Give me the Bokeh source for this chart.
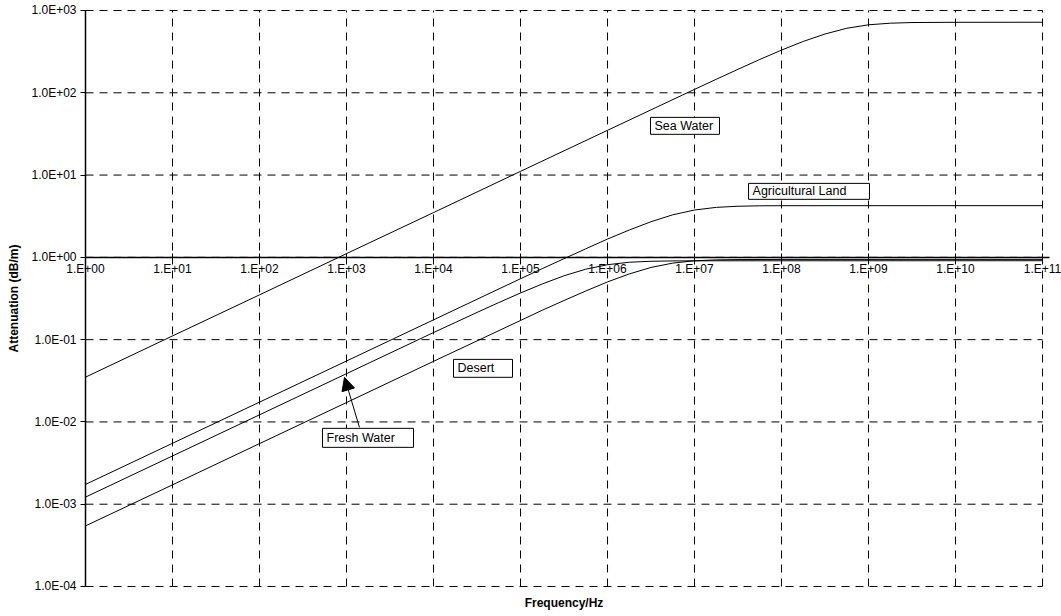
import numpy as np
from bokeh.plotting import figure
from bokeh.models import (FixedTicker, CustomJSTickFormatter, Grid, LogAxis,
                          Arrow, NormalHead, Range1d)
from bokeh.core.properties import value
from bokeh.embed import file_html
from bokeh.resources import INLINE

# ---------------- data ----------------
x_decades = [1e0, 1e1, 1e2, 1e3, 1e4, 1e5, 1e6, 1e7, 1e8, 1e9, 1e10, 1e11]
y_decades = [1e-4, 1e-3, 1e-2, 1e-1, 1e0, 1e1, 1e2, 1e3]

sea_f = [1, 1e1, 1e2, 1e3, 1e4, 1e5, 1e6, 1e7, 1.78e7, 3.16e7, 5.62e7, 1e8, 1.78e8,
         3.16e8, 5.62e8, 1e9, 1.78e9, 3.16e9, 1e10, 1e11]
sea_a = [0.035, 0.111, 0.35, 1.11, 3.5, 11.1, 35, 110, 146, 193, 254, 330, 421,
         518, 608, 670, 701, 714, 719, 720]

agri_f = [1, 1e1, 1e2, 1e3, 1e4, 1e5, 1.78e5, 3.16e5, 5.62e5, 1e6, 1.78e6, 3.16e6,
          5.62e6, 1e7, 1.78e7, 3.16e7, 5.62e7, 1e8, 1e11]
agri_a = [1.74e-3, 5.5e-3, 0.0174, 0.055, 0.174, 0.55, 0.73, 0.963, 1.27, 1.67, 2.15,
          2.71, 3.29, 3.76, 4.05, 4.18, 4.23, 4.245, 4.25]

fresh_f = [1, 1e1, 1e2, 1e3, 1e4, 1.78e4, 3.16e4, 5.62e4, 1e5, 1.78e5, 3.16e5, 5.62e5,
           1e6, 1.78e6, 3.16e6, 5.62e6, 1e7, 1e11]
fresh_a = [1.22e-3, 3.86e-3, 0.0122, 0.0386, 0.122, 0.1616, 0.214, 0.282, 0.369, 0.475,
           0.597, 0.718, 0.814, 0.872, 0.896, 0.905, 0.908, 0.91]

desert_f = [1, 1e1, 1e2, 1e3, 1e4, 1e5, 1.78e5, 3.16e5, 5.62e5, 1e6, 1.78e6, 3.16e6,
            5.62e6, 1e7, 1.78e7, 3.16e7, 1e8, 1e11]
desert_a = [5.45e-4, 1.72e-3, 5.45e-3, 0.0172, 0.0545, 0.171, 0.228, 0.299, 0.39, 0.503,
            0.629, 0.754, 0.851, 0.908, 0.932, 0.94, 0.944, 0.945]

# annotation boxes (log10 coordinates)
box_text = ["Sea Water", "Agricultural Land", "Desert", "Fresh Water"]
box_left_exp = [6.494, 7.621, 4.230, 2.724]
box_right_exp = [7.287, 9.011, 4.908, 3.770]
box_top_exp = [1.701, 0.899, -1.240, -2.078]
box_bottom_exp = [1.495, 0.705, -1.458, -2.309]

arrow_start_exp = (3.149, -2.066)
arrow_end_exp = (2.977, -1.458)

# visible window of the canvas (log10), so axes drawn inside are not clipped
view_x_exp = (-0.977, 11.218)
view_y_exp = (-4.3646, 3.1215)

FONT = "Liberation Sans"

p = figure(width=1061, height=616, x_axis_type="log", y_axis_type="log",
           x_range=Range1d(10 ** view_x_exp[0], 10 ** view_x_exp[1]),
           y_range=Range1d(10 ** view_y_exp[0], 10 ** view_y_exp[1]),
           x_axis_location=None, y_axis_location=None,
           output_backend="svg", toolbar_location=None,
           min_border_left=0, min_border_right=0, min_border_top=0, min_border_bottom=0)
p.outline_line_color = None
p.background_fill_color = "white"
p.border_fill_color = "white"

# remove default grids, draw own dashed grid within the data box
p.center = [r for r in p.center if not isinstance(r, Grid)]
x0, x1 = x_decades[0], x_decades[-1]
y0, y1 = y_decades[0], y_decades[-1]
p.segment(x0=x_decades, y0=[y0] * len(x_decades), x1=x_decades, y1=[y1] * len(x_decades),
          line_color="black", line_width=1, line_dash="8 6")
p.segment(x0=[x0] * len(y_decades), y0=y_decades, x1=[x1] * len(y_decades), y1=y_decades,
          line_color="black", line_width=1, line_dash="8 6")

# y axis at x = 1
ya = LogAxis(fixed_location=x0, bounds=(y0, y1),
             ticker=FixedTicker(ticks=y_decades, minor_ticks=[]),
             formatter=CustomJSTickFormatter(code="""
const e = Math.round(Math.log10(tick));
const s = e < 0 ? "-" : "+";
const a = Math.abs(e);
return "1.0E" + s + (a < 10 ? "0" + a : "" + a);
"""),
             major_tick_out=5, major_tick_in=0, minor_tick_line_color=None,
             axis_line_width=1.5, axis_line_color="black", major_tick_line_color="black",
             major_label_text_font=FONT, major_label_text_font_size="12px",
             major_label_text_color="black", major_label_standoff=4,
             axis_label="Attenuation (dB/m)", axis_label_text_font=FONT,
             axis_label_text_font_size="12px", axis_label_text_font_style="bold",
             axis_label_text_color="black", axis_label_standoff=7)
p.add_layout(ya, "left")

# x axis drawn at y = 1
xa = LogAxis(fixed_location=1, bounds=(x0, x1 * 1.2),
             ticker=FixedTicker(ticks=x_decades, minor_ticks=[]),
             formatter=CustomJSTickFormatter(code="""
const e = Math.round(Math.log10(tick));
return "1.E+" + (e < 10 ? "0" + e : "" + e);
"""),
             major_tick_in=4, major_tick_out=4, minor_tick_line_color=None,
             axis_line_width=1.5, axis_line_color="black", major_tick_line_color="black",
             major_label_text_font=FONT, major_label_text_font_size="12px",
             major_label_text_color="black", major_label_standoff=1)
p.add_layout(xa, "below")

# x axis title below the data box
xt = LogAxis(fixed_location=y0, bounds=(x0, x1),
             ticker=FixedTicker(ticks=[], minor_ticks=[]), axis_line_color=None,
             major_tick_line_color=None, minor_tick_line_color=None,
             axis_label="Frequency/Hz", axis_label_text_font=FONT,
             axis_label_text_font_size="12px", axis_label_text_font_style="bold",
             axis_label_text_color="black", axis_label_standoff=9)
p.add_layout(xt, "below")

# curves
for f, a in [(sea_f, sea_a), (agri_f, agri_a), (fresh_f, fresh_a), (desert_f, desert_a)]:
    p.line(f, a, line_color="black", line_width=1)

# annotation boxes
bl = [10 ** v for v in box_left_exp]
br = [10 ** v for v in box_right_exp]
bt = [10 ** v for v in box_top_exp]
bb = [10 ** v for v in box_bottom_exp]
p.quad(left=bl, right=br, top=bt, bottom=bb, fill_color="white", line_color="black", line_width=1)
ym = [10 ** ((t + b) / 2) for t, b in zip(box_top_exp, box_bottom_exp)]
p.text(x=bl, y=ym, text=box_text, x_offset=4, text_align="left", text_baseline="middle",
       text_font=value(FONT), text_font_size="12.5px", text_color="black")

p.add_layout(Arrow(end=NormalHead(size=13, fill_color="black", line_color="black"),
                   x_start=10 ** arrow_start_exp[0], y_start=10 ** arrow_start_exp[1],
                   x_end=10 ** arrow_end_exp[0], y_end=10 ** arrow_end_exp[1],
                   line_color="black", line_width=1))

open("out.html", "w").write(file_html(p, INLINE))
